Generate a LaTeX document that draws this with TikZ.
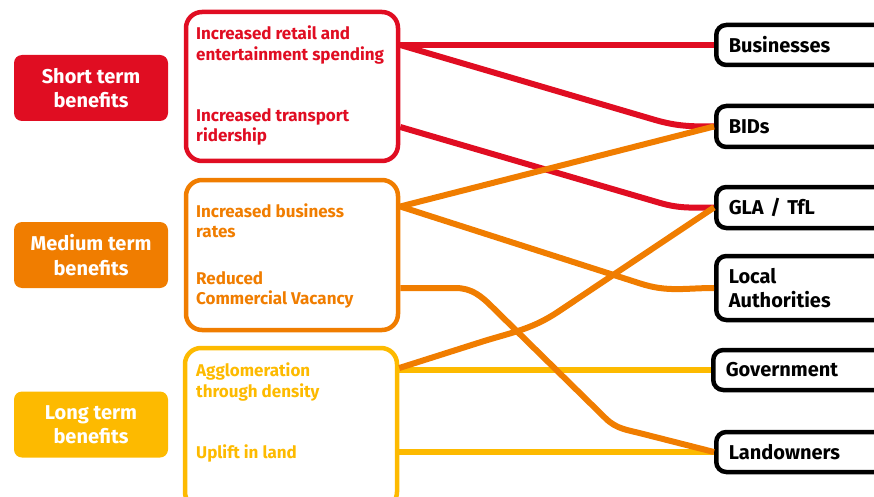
\documentclass[tikz,border=0pt]{standalone}
\usepackage{fontspec}
\setmainfont{Fira Sans}
\usetikzlibrary{positioning}
\definecolor{bred}{HTML}{E00D22}
\definecolor{borange}{HTML}{F07D00}
\definecolor{byellow}{HTML}{FDBA00}

\begin{document}
\begin{tikzpicture}[x=1pt, y=-1pt,
    termbox/.style={fill=#1, rounded corners=8pt, minimum width=154pt, minimum height=66pt,
        text=white, align=center, inner sep=0pt, font=\fontsize{20}{24.5}\selectfont\bfseries},
    groupbox/.style={draw=#1, line width=4.5pt, rounded corners=16pt, minimum width=212pt,
        minimum height=149pt, inner sep=0pt},
    benefit/.style={text=#1, anchor=west, align=left, inner sep=0pt,
        font=\fontsize{17}{20.5}\selectfont\bfseries},
    party/.style={draw=black, line width=4.5pt, fill=white, rounded corners=10pt, anchor=west,
        minimum width=180pt, minimum height=40pt, text width=155pt, inner xsep=9pt,
        align=left, font=\fontsize{20}{24}\selectfont\bfseries},
    link/.style={draw=#1, line width=6pt},
]
    \useasboundingbox (0,0) rectangle (874,497);

    % benefit terms
    \node[termbox=bred] (short) at (91,88) {Short term\\benefits};
    \node[termbox=borange] (medium) at (91,255) {Medium term\\benefits};
    \node[termbox=byellow] (long) at (91,424.5) {Long term\\benefits};

    % grouped benefits
    \node[groupbox=bred] (redbox) at (292,86.5) {};
    \node[groupbox=borange, minimum height=150pt] (orangebox) at (292,255) {};
    \node[groupbox=byellow, minimum height=160pt] (yellowbox) at (291,428) {};

    \node[benefit=bred] (retail) at (196,45) {Increased retail and\\entertainment spending};
    \node[benefit=bred] (transport) at (196,127) {Increased transport\\ridership};
    \node[benefit=borange] (rates) at (196,220.5) {Increased business\\rates};
    \node[benefit=borange] (vacancy) at (196,290) {Reduced\\Commercial Vacancy};
    \node[benefit=byellow] (density) at (196,382) {Agglomeration\\through density};
    \node[benefit=byellow] (uplift) at (196,453) {Uplift in land};

    % beneficiaries
    \node[party] (business) at (714,45) {Businesses};
    \node[party, minimum height=41pt] (bids) at (714,126.5) {BIDs};
    \node[party, minimum height=41pt] (gla) at (714,207.5) {GLA / TfL};
    \node[party, minimum height=64pt] (local) at (714,288) {Local\\Authorities};
    \node[party] (govt) at (711,370) {Government};
    \node[party] (landown) at (714,452) {Landowners};

    % short term links
    \draw[link=bred] (business.west -| redbox.east) -- (business.west);
    \draw[link=bred] (business.west -| redbox.east) -- ++(255,75)
        to[out=-16, in=180] (bids.west);
    \draw[link=bred] (transport -| redbox.east) -- ++(260,76)
        to[out=-16, in=180] (gla.west);

    % long term links
    \draw[link=byellow] (govt.west -| yellowbox.east) -- (govt.west);
    \draw[link=byellow] (landown.west -| yellowbox.east) -- (landown.west);

    % medium term links
    \draw[link=borange] ([yshift=14pt]rates -| orangebox.east) -- (bids.west);
    \draw[link=borange] ([yshift=14pt]rates -| orangebox.east) -- ++(240,77)
        to[out=-18, in=180] (local.west);
    \draw[link=borange] ([yshift=2pt]vacancy -| orangebox.east) -- ++(55,0)
        to[out=0, in=135] ++(38,20) -- ++(112,110)
        to[out=-45, in=165] ++(38,16) -- (landown.west);
    \draw[link=borange] ([yshift=14pt]density -| yellowbox.east) -- ++(85,-27)
        to[out=17, in=-146] ++(75,-30) -- (gla.west);
\end{tikzpicture}
\end{document}
